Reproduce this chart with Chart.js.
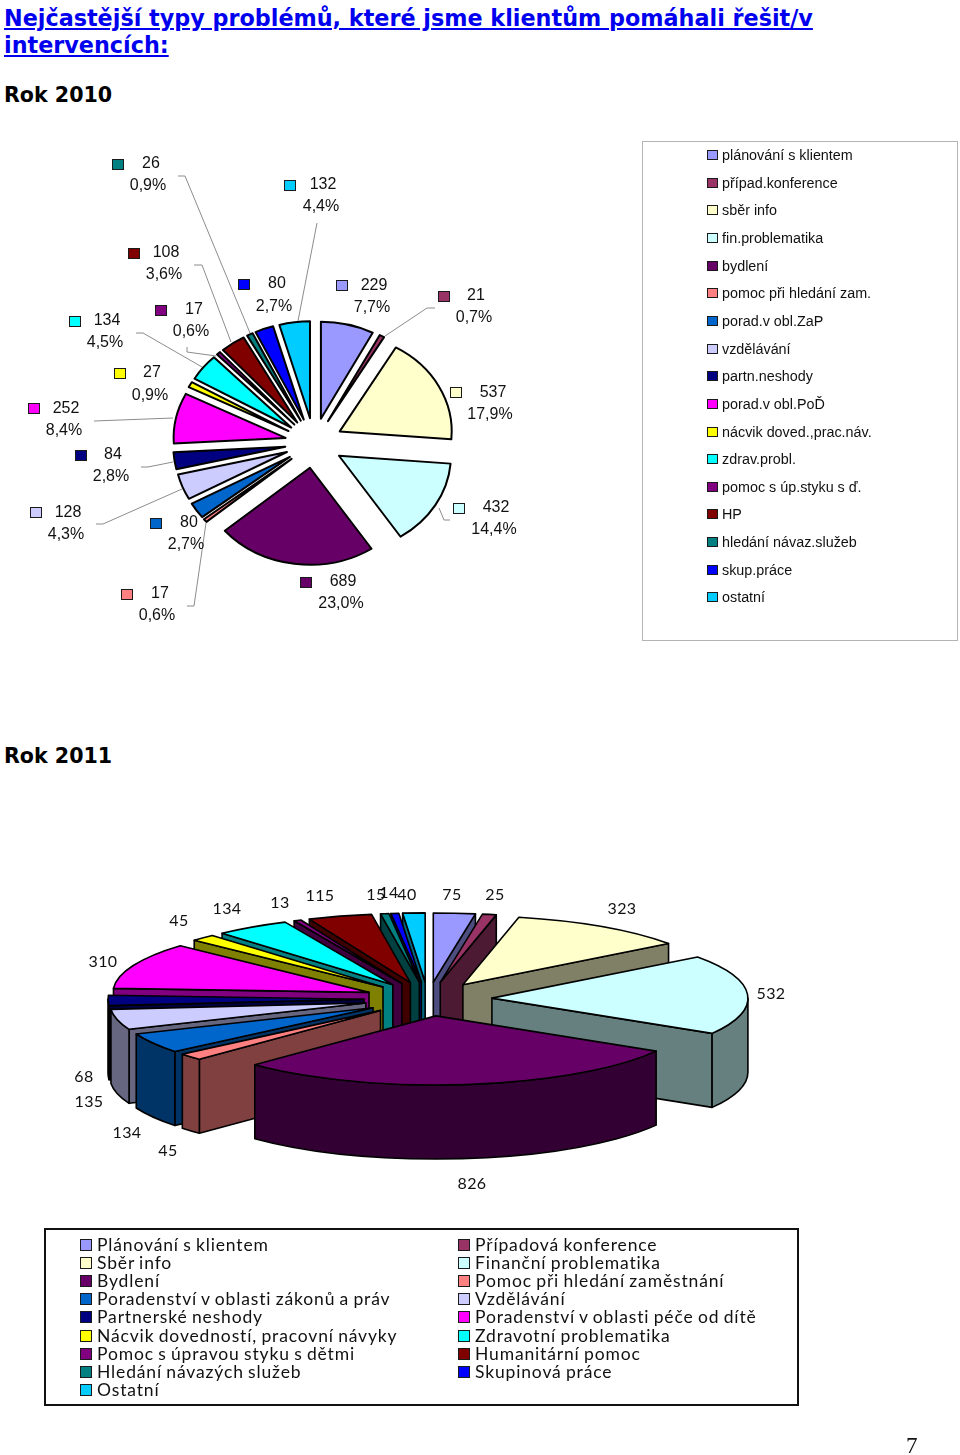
<!DOCTYPE html>
<html lang="cs">
<head>
<meta charset="utf-8">
<title>Nejčastější typy problémů</title>
<script src="https://cdn.jsdelivr.net/npm/chart.js@4/dist/chart.umd.min.js"></script>
<style>
html,body{margin:0;padding:0;background:#fff;}
#page{position:relative;width:960px;height:1455px;overflow:hidden;background:#fff;}
canvas{position:absolute;}
svg{position:absolute;left:0;top:0;}
.t{position:absolute;white-space:nowrap;line-height:1;}
.head{font-family:"DejaVu Sans",sans-serif;font-weight:bold;font-size:20.6px;left:4px;color:#000;}
.link{color:#0000ee;text-decoration:underline;font-size:22.3px;}
.a{font-family:"Liberation Sans",Arial,sans-serif;font-size:16px;color:#111;transform:translate(-50%,-50%);}
.lg{font-family:"Liberation Sans",Arial,sans-serif;font-size:14.35px;color:#111;transform:translateY(-50%);}
.c{font-family:Lato,sans-serif;font-size:16px;letter-spacing:.4px;color:#111;transform:translate(-50%,-50%);}
.lg2{font-family:Lato,sans-serif;font-size:17.5px;letter-spacing:.85px;word-spacing:-1px;color:#111;transform:translateY(-50%);}
.sw{position:absolute;box-sizing:border-box;border:1.6px solid #1a1a1a;}
.box{position:absolute;box-sizing:border-box;background:transparent;}
</style>
</head>
<body>
<div id="page"></div>
<script>
// ---------- data ----------
const labels2010 = ["plánování s klientem","případ.konference","sběr info","fin.problematika","bydlení","pomoc při hledání zam.","porad.v obl.ZaP","vzdělávání","partn.neshody","porad.v obl.PoĎ","nácvik doved.,prac.náv.","zdrav.probl.","pomoc s úp.styku s ď.","HP","hledání návaz.služeb","skup.práce","ostatní"];
const values2010 = [229,21,537,432,689,17,80,128,84,252,27,134,17,108,26,80,132];
const labels2011 = ["Plánování s klientem","Případová konference","Sběr info","Finanční problematika","Bydlení","Pomoc při hledání zaměstnání","Poradenství v oblasti zákonů a práv","Vzdělávání","Partnerské neshody","Poradenství v oblasti péče od dítě","Nácvik dovedností, pracovní návyky","Zdravotní problematika","Pomoc s úpravou styku s dětmi","Humanitární pomoc","Hledání návazých služeb","Skupinová práce","Ostatní"];
const values2011 = [75,25,323,532,826,45,134,135,68,310,45,134,13,115,15,14,40];
const sliceColors = ["#9999FF","#993366","#FFFFCC","#CCFFFF","#660066","#FF8080","#0066CC","#CCCCFF","#000080","#FF00FF","#FFFF00","#00FFFF","#800080","#800000","#008080","#0000FF","#00CCFF"];

// ---------- layout (annotation positions only) ----------
const swatch2010 = [[342,285],[444,296],[456,392],[459,508],[306,582],[127,594],[156,523],[36,512],[81,455],[34,408],[120,373],[75,321],[161,310],[134,253],[118,164],[244,284],[290,185]];
const valuePos2010 = [[374,285],[476,295],[493,392],[496,507],[343,581],[160,593],[189,522],[68,512],[113,454],[66,408],[152,372],[107,320],[194,309],[166,252],[151,163],[277,283],[323,184]];
const pctPos2010 = [[372,307],[474,317],[490,414],[494,529],[341,603],[157,615],[186,544],[66,534],[111,476],[64,430],[150,395],[105,342],[191,331],[164,274],[148,185],[274,306],[321,206]];
const leaders2010 = ["435,308 427,308 385,336","450,520 444,520 439,508","187,606 194,606 206,523","96,524 103,524 182,489","141,467 148,467 173,462","94,421 173,418","136,333 143,333 202,367","187,347 187,352 216,356","194,265 202,265 231,342","178,176 185,176 250,333","317,223 298,321"];
const legendY2010 = [155,183,210,238,266,293,321,349,376,404,432,459,487,514,542,570,597];
const valuePos2011 = [[452,894],[495,894],[622,908],[771,993],[472,1183],[168,1150],[127,1132],[89,1101],[84,1076],[103,961],[179,920],[227,908],[280,902],[320,895],[376,894],[389,892],[407,894]];
const legendY2011 = [1245,1263,1281,1299,1317,1336,1354,1372,1390];

const page = document.getElementById('page');
function text(cls, str, x, y, extra){
  const d = document.createElement('div');
  d.className = 't ' + cls;
  d.textContent = str;
  d.style.left = x + 'px';
  d.style.top = y + 'px';
  if (extra) Object.assign(d.style, extra);
  page.appendChild(d);
  return d;
}
function swatch(cx, cy, w, h, color){
  const d = document.createElement('div');
  d.className = 'sw';
  d.style.cssText = `left:${cx-w/2}px;top:${cy-h/2}px;width:${w}px;height:${h}px;background:${color}`;
  page.appendChild(d);
}
function shade(hex){
  const n = parseInt(hex.slice(1),16);
  const f = v => Math.round(v*0.5);
  return `rgb(${f(n>>16&255)},${f(n>>8&255)},${f(n&255)})`;
}

// 3D-capable exploded pie plugin: library arcs drawn with tilt, explosion, extrusion
function pieLook(k, ex, ey, depth, lineW){
  return {
    id: 'pieLook',
    beforeDatasetsDraw(chart){
      const ctx = chart.ctx;
      const arcs = chart.getDatasetMeta(0).data.slice();
      const mid = a => (a.startAngle + a.endAngle)/2;
      arcs.sort((a,b) => Math.sin(mid(a)) - Math.sin(mid(b)));
      ctx.lineWidth = lineW;
      ctx.strokeStyle = '#000';
      ctx.lineJoin = 'round';
      arcs.forEach(a => {
        const m = mid(a), R = a.outerRadius, s = a.startAngle, e = a.endAngle;
        const cx = a.x + ex*Math.cos(m), cy = a.y + ey*Math.sin(m);
        const px = t => cx + R*Math.cos(t), py = t => cy + k*R*Math.sin(t);
        if (depth > 0) {
          const wall = shade(a.options.backgroundColor);
          ctx.fillStyle = wall;
          const quad = t => {
            ctx.beginPath();
            ctx.moveTo(cx, cy); ctx.lineTo(px(t), py(t));
            ctx.lineTo(px(t), py(t)+depth); ctx.lineTo(cx, cy+depth);
            ctx.closePath(); ctx.fill(); ctx.stroke();
          };
          if (Math.cos(s) < 0) quad(s);
          if (Math.cos(e) > 0) quad(e);
          const lo = Math.max(s, 0), hi = Math.min(e, Math.PI);
          if (lo < hi) {
            ctx.beginPath();
            ctx.ellipse(cx, cy, R, k*R, 0, lo, hi);
            ctx.lineTo(px(hi), py(hi)+depth);
            ctx.ellipse(cx, cy+depth, R, k*R, 0, hi, lo, true);
            ctx.closePath(); ctx.fill(); ctx.stroke();
          }
        }
        ctx.save();
        ctx.translate(cx, cy); ctx.scale(1, k); ctx.translate(-a.x, -a.y);
        a.draw(ctx);
        ctx.restore();
        ctx.beginPath();
        ctx.moveTo(cx, cy);
        ctx.ellipse(cx, cy, R, k*R, 0, s, e);
        ctx.closePath();
        ctx.stroke();
      });
      return false;
    }
  };
}
function makePie(left, top, w, h, labels, values, plugin){
  const c = document.createElement('canvas');
  c.width = w; c.height = h;
  c.style.left = left + 'px'; c.style.top = top + 'px';
  page.appendChild(c);
  const side = plugin.side;
  new Chart(c, {
    type: 'pie',
    data: { labels, datasets: [{ data: values, backgroundColor: sliceColors, borderWidth: 0, offset: 0 }] },
    options: {
      responsive: false, animation: false, events: [],
      layout: { padding: { left:(w-side)/2, right:(w-side)/2, top:(h-side)/2, bottom:(h-side)/2 } },
      plugins: { legend:{display:false}, tooltip:{enabled:false} }
    },
    plugins: [plugin.look]
  });
}

// ---------- headings ----------
text('head link','Nejčastější typy problémů, které jsme klientům pomáhali řešit/v',4,7);
text('head link','intervencích:',4,34);
text('head','Rok 2010',4,85);
text('head','Rok 2011',4,746);

// ---------- 2010 ----------
makePie(0, 243, 628, 400, labels2010, values2010, {side:224, look:pieLook(0.866, 29, 25, 0, 2)});
const box1 = document.createElement('div');
box1.className = 'box';
box1.style.cssText = 'left:642px;top:141px;width:316px;height:500px;border:1.5px solid #b4b4b4';
page.appendChild(box1);

const svgNS = 'http://www.w3.org/2000/svg';
const svg = document.createElementNS(svgNS,'svg');
svg.setAttribute('width',960); svg.setAttribute('height',1455);
leaders2010.forEach(p => {
  const l = document.createElementNS(svgNS,'polyline');
  l.setAttribute('points',p); l.setAttribute('fill','none');
  l.setAttribute('stroke','#8c8c8c'); l.setAttribute('stroke-width','1');
  svg.appendChild(l);
});
page.appendChild(svg);

const total2010 = values2010.reduce((a,b)=>a+b,0);
values2010.forEach((v,i) => {
  swatch(swatch2010[i][0], swatch2010[i][1], 12, 11, sliceColors[i]);
  text('a', String(v), valuePos2010[i][0], valuePos2010[i][1]);
  text('a', (v/total2010*100).toFixed(1).replace('.',',')+'%', pctPos2010[i][0], pctPos2010[i][1]);
});
labels2010.forEach((l,i) => {
  swatch(712, legendY2010[i], 11, 10, sliceColors[i]);
  text('lg', l, 722, legendY2010[i]);
});

// ---------- 2011 ----------
makePie(0, 743, 856, 512, labels2011, values2011, {side:512, look:pieLook(0.27, 64, 17, 74, 1.6)});
values2011.forEach((v,i) => text('c', String(v), valuePos2011[i][0], valuePos2011[i][1]));
const box2 = document.createElement('div');
box2.className = 'box';
box2.style.cssText = 'left:44px;top:1228px;width:755px;height:178px;border:2px solid #111';
page.appendChild(box2);
labels2011.forEach((l,i) => {
  const row = Math.floor(i/2), y = legendY2011[row];
  const sx = i%2 ? 464 : 86, tx = i%2 ? 475 : 97;
  swatch(sx, y, 12, 12, sliceColors[i]);
  text('lg2', l, tx, y);
});

// page number
text('', '7', 906, 1434, {fontFamily:'"Liberation Serif",serif',fontSize:'23px',color:'#111'});
</script>
</body>
</html>
